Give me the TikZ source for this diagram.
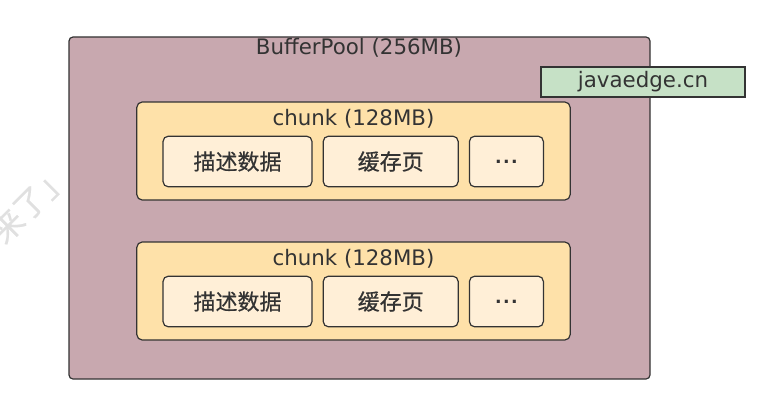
\documentclass[tikz,border=0pt]{standalone}
\usepackage{fontspec}
\setmainfont{DejaVu Sans}
\newfontfamily\cjk[FakeBold=0.6]{Noto Sans CJK SC}
\usetikzlibrary{positioning}
\definecolor{poolfill}{HTML}{C8A8AF}
\definecolor{chunkfill}{HTML}{FEE1A9}
\definecolor{pagefill}{HTML}{FFEFD7}
\definecolor{tagfill}{HTML}{C6E1C6}
\definecolor{edge}{HTML}{333333}
\tikzstyle{pool}=[draw=edge,line width=.9pt,fill=poolfill,rounded corners=3pt,inner sep=0pt]
\tikzstyle{chunk}=[draw=edge,line width=.9pt,fill=chunkfill,rounded corners=4pt,inner sep=0pt,minimum width=325pt,minimum height=73.5pt]
\tikzstyle{page}=[draw=edge,line width=.9pt,fill=pagefill,text=edge,rounded corners=4pt,inner sep=0pt,minimum height=38pt,font=\cjk\fontsize{16.5}{20}\selectfont]
\tikzstyle{tag}=[draw=edge,line width=.9pt,fill=tagfill,text=edge,inner sep=0pt,minimum width=153pt,minimum height=22.5pt]
\tikzstyle{label}=[text=edge,inner sep=0pt]

\begin{document}
\begin{tikzpicture}[x=.75pt, y=-.75pt,font=\fontsize{16}{19}\selectfont]
	\useasboundingbox (0,0) rectangle (770,410);

	% watermark
	\node[label,text=black!12,rotate=45,font=\cjk\fontsize{24}{28}\selectfont] (mark) at (30,203) {来了」};

	% buffer pool
	\node[pool,minimum width=435.75pt,minimum height=256.5pt] (pool) at (359.5,208) {};
	\node[label] (poolname) at (359,48) {BufferPool (256MB)};

	% chunks
	\foreach \i/\y in {1/151,2/291}{
		\node[chunk] (chunk\i) at (353.5,\y) {};
		\node[label,below=5.5pt of chunk\i.north] (chunkname\i) {chunk (128MB)};
		\node[page,minimum width=111.75pt] (data\i) at (237.5,\y+10.5) {描述数据};
		\node[page,minimum width=101.25pt,right=7.5pt of data\i] (cache\i) {缓存页};
		\node[page,minimum width=55.5pt,right=7.5pt of cache\i,font=\fontsize{13}{15}\selectfont\bfseries] (more\i) {.\kern1pt.\kern1pt.};
	}

	% site tag
	\node[tag,font=\fontsize{16}{19}\selectfont] (site) at (643,82) {javaedge.cn};
\end{tikzpicture}
\end{document}
